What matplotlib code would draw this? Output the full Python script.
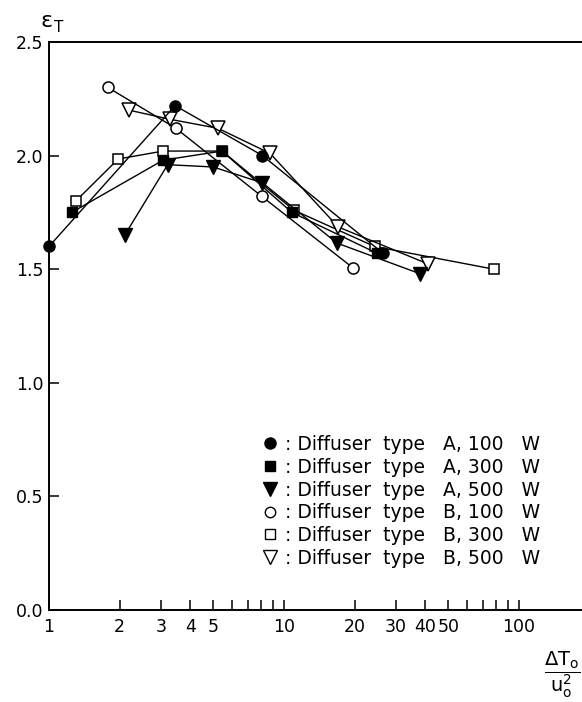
import matplotlib
matplotlib.use("Agg")
import matplotlib.pyplot as plt
from matplotlib.lines import Line2D
from matplotlib.ticker import FixedLocator, NullFormatter

# data (x = dT0/u0^2, y = eps_T)
a100_x = [1.0, 3.44, 8.1, 26.4]
a100_y = [1.60, 2.22, 2.00, 1.57]
a300_x = [1.25, 3.06, 5.45, 10.8, 24.9]
a300_y = [1.75, 1.98, 2.02, 1.75, 1.57]
a500_x = [2.1, 3.2, 4.99, 8.1, 16.8, 37.9]
a500_y = [1.65, 1.96, 1.95, 1.88, 1.615, 1.48]
b100_x = [1.78, 3.47, 8.06, 19.7]
b100_y = [2.30, 2.12, 1.82, 1.505]
b300_x = [1.30, 1.97, 3.06, 5.45, 11.0, 24.3, 78.3]
b300_y = [1.80, 1.985, 2.02, 2.02, 1.76, 1.60, 1.50]
b500_x = [2.19, 3.27, 5.24, 8.72, 17.0, 41.0]
b500_y = [2.20, 2.16, 2.12, 2.01, 1.686, 1.523]

labels = [": Diffuser  type   A, 100   W",
          ": Diffuser  type   A, 300   W",
          ": Diffuser  type   A, 500   W",
          ": Diffuser  type   B, 100   W",
          ": Diffuser  type   B, 300   W",
          ": Diffuser  type   B, 500   W"]
xticks_major = [1, 2, 3, 4, 5, 10, 20, 30, 40, 50, 100]
xticks_minor = [6, 7, 8, 9, 60, 70, 80, 90]
yticks = [0.0, 0.5, 1.0, 1.5, 2.0, 2.5]

fs = 12.5
fig = plt.figure(figsize=(5.82, 7.02), dpi=100)
ax = fig.add_axes([49/582, 92/702, 533/582, 568/702])

open_kw = dict(color="k", lw=1, mfc="white", mec="k", mew=1.1)
fill_kw = dict(color="k", lw=1, mfc="k", mec="k")
ax.plot(b300_x, b300_y, marker="s", ms=7.5, **open_kw)
ax.plot(b500_x, b500_y, marker="v", ms=10, **open_kw)
ax.plot(b100_x, b100_y, marker="o", ms=8, **open_kw)
ax.plot(a500_x, a500_y, marker="v", ms=10, **fill_kw)
ax.plot(a300_x, a300_y, marker="s", ms=7.5, **fill_kw)
ax.plot(a100_x, a100_y, marker="o", ms=8, clip_on=False, **fill_kw)

ax.set_xscale("log")
ax.set_xlim(1, 10 ** (533 / 235))
ax.set_ylim(0, 2.5)
ax.xaxis.set_major_locator(FixedLocator(xticks_major))
ax.xaxis.set_minor_locator(FixedLocator(xticks_minor))
ax.set_xticklabels([str(v) for v in xticks_major])
ax.xaxis.set_minor_formatter(NullFormatter())
ax.set_yticks(yticks)
ax.set_yticklabels(["%.1f" % v for v in yticks])
ax.tick_params(which="both", direction="in", length=7, width=1.1,
               labelsize=fs, pad=4, top=False, right=False)
ax.tick_params(axis="x", pad=6)
ax.spines["right"].set_visible(False)
for s in ["left", "bottom", "top"]:
    ax.spines[s].set_linewidth(1.4)

handles = [Line2D([], [], ls="none", marker="o", ms=8, mfc="k", mec="k"),
           Line2D([], [], ls="none", marker="s", ms=7, mfc="k", mec="k"),
           Line2D([], [], ls="none", marker="v", ms=10, mfc="k", mec="k"),
           Line2D([], [], ls="none", marker="o", ms=7.5, mfc="white", mec="k"),
           Line2D([], [], ls="none", marker="s", ms=7, mfc="white", mec="k"),
           Line2D([], [], ls="none", marker="v", ms=10, mfc="white", mec="k")]
ax.legend(handles, labels, loc="upper left", bbox_to_anchor=(261/582, 1 - 435/702),
          bbox_transform=fig.transFigure, frameon=False, fontsize=13.5,
          handlelength=1.0, handletextpad=0.3, labelspacing=0.2,
          borderpad=0, borderaxespad=0)

fig.text(40/582, 1 - 27/702, "ε", fontsize=16, va="baseline")
fig.text(54/582, 1 - 32/702, "T", fontsize=11, va="baseline")
fig.text(580/582, 1 - 700/702, r"$\dfrac{\Delta\mathrm{T_o}}{\mathrm{u_o^2}}$",
         fontsize=14, ha="right", va="bottom")

fig.savefig("out.png", dpi=100)
